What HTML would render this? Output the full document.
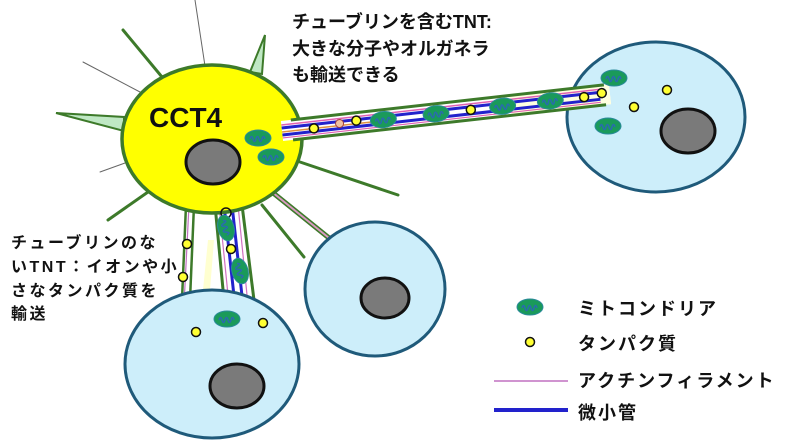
<!DOCTYPE html>
<html><head><meta charset="utf-8"><style>
html,body{margin:0;padding:0;background:#fff;}
svg{display:block}
text{font-family:"Liberation Sans","Noto Sans CJK JP",sans-serif;font-weight:bold;fill:#111}
</style></head><body>
<svg width="800" height="440" viewBox="0 0 800 440" xmlns="http://www.w3.org/2000/svg">
<defs>
<g id="mito"><ellipse rx="13" ry="8" fill="#1a9a5a" stroke="#2a8a9a" stroke-width="1"/><path d="M-8,1 q1.5,-5 3,0 t3,0 t3,0 t3,0 t3,0" fill="none" stroke="#2a6ab0" stroke-width="1.5"/></g>
<circle id="prot" r="4.5" fill="#ffff33" stroke="#111" stroke-width="1.5"/>
</defs>
<g stroke="#3d7a2a" stroke-linecap="round">
<line x1="123" y1="30" x2="162" y2="77" stroke-width="3"/>
<line x1="83" y1="62" x2="140" y2="92" stroke-width="1" stroke="#666"/>
<line x1="195" y1="0" x2="205" y2="66" stroke-width="1" stroke="#666"/>
<line x1="100" y1="172" x2="125" y2="163" stroke-width="1" stroke="#666"/>
<line x1="108" y1="220" x2="148" y2="192" stroke-width="3"/>
<line x1="300" y1="162" x2="398" y2="195" stroke-width="3"/>
<line x1="262" y1="205" x2="304" y2="257" stroke-width="3"/>
</g>
<polygon points="265,35 250,72 262,74" fill="#bfe8c4" stroke="#3d7a2a" stroke-width="2"/>
<polygon points="56,113 124,117 124,131" fill="#bfe8c4" stroke="#3d7a2a" stroke-width="2"/>
<g stroke-linecap="round">
<line x1="272" y1="192" x2="334" y2="242" stroke="#3d7a2a" stroke-width="5"/>
<line x1="272" y1="192" x2="334" y2="242" stroke="#d89ac0" stroke-width="2"/>
</g>
<ellipse cx="656" cy="117" rx="89" ry="75" fill="#cdeefa" stroke="#1f5a7a" stroke-width="3"/>
<ellipse cx="375" cy="289" rx="70" ry="67" fill="#cdeefa" stroke="#1f5a7a" stroke-width="3"/>
<polygon points="180,300 188,205 193,205 188,300" fill="#fff"/>
<line x1="182" y1="300" x2="186" y2="205" stroke="#3d7a2a" stroke-width="2.5"/>
<line x1="190" y1="300" x2="194" y2="205" stroke="#3d7a2a" stroke-width="2.5"/>
<line x1="184" y1="305" x2="189" y2="205" stroke="#c070c0" stroke-width="1.2"/>
<polygon points="214,205 242,205 254,300 224,300" fill="#fff"/>
<line x1="215" y1="205" x2="224" y2="300" stroke="#3d7a2a" stroke-width="3"/>
<line x1="242" y1="205" x2="254" y2="300" stroke="#3d7a2a" stroke-width="3"/>
<line x1="219" y1="205" x2="229" y2="305" stroke="#d070c0" stroke-width="1.2"/>
<line x1="224" y1="205" x2="235" y2="305" stroke="#2222cc" stroke-width="3"/>
<line x1="232" y1="205" x2="243" y2="305" stroke="#2222cc" stroke-width="3"/>
<line x1="238" y1="205" x2="248" y2="305" stroke="#d070c0" stroke-width="1.2"/>
<polygon points="208,240 214,240 210,290 203,290" fill="#ffffd0"/>
<ellipse cx="212" cy="364" rx="87" ry="74" fill="#cdeefa" stroke="#1f5a7a" stroke-width="3"/>
<ellipse cx="212" cy="139" rx="90" ry="74" fill="#ffff00" stroke="#3d7a2a" stroke-width="3.5"/>
<g transform="translate(282,131) rotate(-6.4)">
<rect x="0" y="-10" width="330" height="20" fill="#fff"/>
<rect x="230" y="-10" width="100" height="20" fill="#ffffe0"/>
<line x1="10" y1="-10" x2="325" y2="-10" stroke="#3d7a2a" stroke-width="3"/>
<line x1="10" y1="10" x2="325" y2="10" stroke="#3d7a2a" stroke-width="3"/>
<line x1="0" y1="-6" x2="320" y2="-6" stroke="#e060b0" stroke-width="1.5"/>
<line x1="0" y1="-3" x2="320" y2="-3" stroke="#2222cc" stroke-width="3"/>
<line x1="0" y1="1" x2="100" y2="1" stroke="#e09040" stroke-width="1.5"/>
<line x1="0" y1="4" x2="320" y2="4" stroke="#2222cc" stroke-width="3"/>
<line x1="0" y1="7" x2="320" y2="7" stroke="#e060b0" stroke-width="1.2"/>
<use href="#prot" x="32" y="1"/>
<circle cx="58" cy="-1" r="4" fill="#f0c0a0" stroke="#a04040" stroke-width="1"/>
<use href="#prot" x="75" y="-2"/>
<use href="#mito" x="102" y="0"/>
<use href="#mito" x="155" y="0"/>
<use href="#prot" x="190" y="0"/>
<use href="#mito" x="222" y="0"/>
<use href="#mito" x="270" y="0"/>
<use href="#prot" x="304" y="0"/>
<use href="#prot" x="322" y="-2"/>
</g>
<ellipse cx="213" cy="162" rx="27" ry="22" fill="#7a7a7a" stroke="#111" stroke-width="3"/>
<ellipse cx="688" cy="131" rx="27" ry="22" fill="#7a7a7a" stroke="#111" stroke-width="3"/>
<ellipse cx="385" cy="298" rx="24" ry="20" fill="#7a7a7a" stroke="#111" stroke-width="3"/>
<ellipse cx="237" cy="386" rx="27" ry="22" fill="#7a7a7a" stroke="#111" stroke-width="3"/>
<use href="#mito" x="258" y="138"/>
<use href="#mito" x="271" y="157"/>
<use href="#mito" x="614" y="78"/>
<use href="#mito" x="608" y="126"/>
<use href="#prot" x="634" y="107"/>
<use href="#prot" x="667" y="90"/>
<use href="#prot" x="187" y="244"/>
<use href="#prot" x="183" y="277"/>
<use href="#prot" x="231" y="249"/>
<circle cx="226" cy="213" r="5" fill="none" stroke="#111" stroke-width="1.5"/>
<g transform="translate(226,228) rotate(75)"><use href="#mito"/></g>
<g transform="translate(240,271) rotate(75)"><use href="#mito"/></g>
<use href="#mito" x="227" y="319"/>
<use href="#prot" x="196" y="332"/>
<use href="#prot" x="263" y="323"/>
<text x="149" y="127" font-size="28">CCT4</text>
<text font-size="18"><tspan x="292" y="28">チューブリンを含むTNT:</tspan><tspan x="292" y="55">大きな分子やオルガネラ</tspan><tspan x="292" y="81">も輸送できる</tspan></text>
<text font-size="16" letter-spacing="2.5"><tspan x="11" y="248">チューブリンのな</tspan><tspan x="11" y="272">いTNT：イオンや小</tspan><tspan x="11" y="296">さなタンパク質を</tspan><tspan x="11" y="319">輸送</tspan></text>
<use href="#mito" x="530" y="307"/>
<use href="#prot" x="530" y="342"/>
<line x1="494" y1="381" x2="568" y2="381" stroke="#c070c0" stroke-width="1.5"/>
<line x1="494" y1="410" x2="568" y2="410" stroke="#2222cc" stroke-width="4"/>
<text font-size="18" letter-spacing="2"><tspan x="578" y="315">ミトコンドリア</tspan><tspan x="578" y="350">タンパク質</tspan><tspan x="578" y="387">アクチンフィラメント</tspan><tspan x="578" y="419">微小管</tspan></text>
</svg>
</body></html>
